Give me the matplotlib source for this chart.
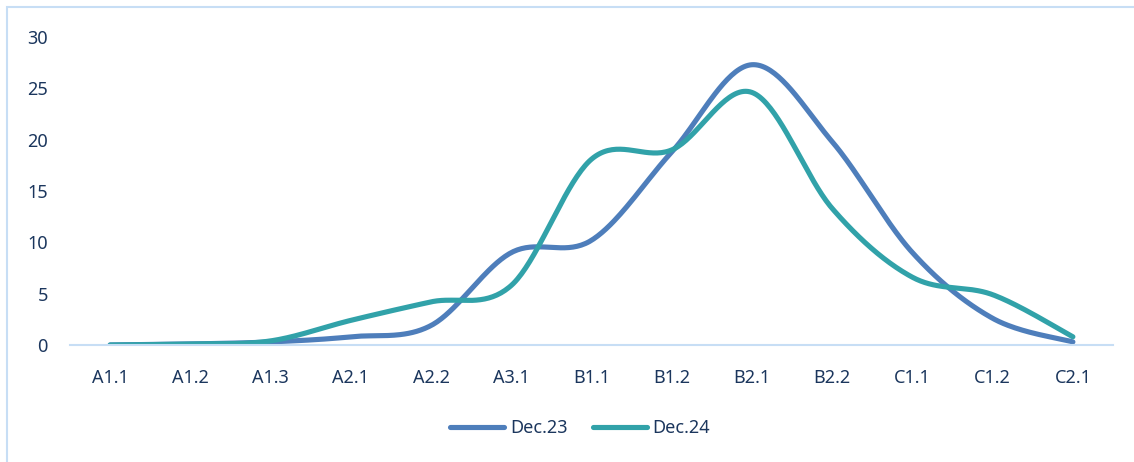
import numpy as np
import matplotlib
matplotlib.use("Agg")
import matplotlib.pyplot as plt
from matplotlib.patches import Rectangle

categories = ["A1.1", "A1.2", "A1.3", "A2.1", "A2.2", "A3.1", "B1.1",
              "B1.2", "B2.1", "B2.2", "C1.1", "C1.2", "C2.1"]
dec23 = [0.0, 0.1, 0.3, 0.8, 1.9, 9.0, 10.2, 18.8, 27.3, 19.8, 9.0, 2.6, 0.3]
dec24 = [0.0, 0.1, 0.4, 2.4, 4.2, 5.8, 18.1, 19.0, 24.6, 13.3, 6.6, 4.9, 0.8]
series_names = ["Dec.23", "Dec.24"]
colors = ["#4E7EBB", "#31A2A9"]

TEXT = "#1B365D"
AXIS = "#C7DEF5"


def smooth(xs, ys, steps=40):
    """Excel-style smoothed line: Catmull-Rom segments as cubic Beziers."""
    pts = np.column_stack([xs, ys]).astype(float)
    n = len(pts)
    out = [pts[0]]
    t = np.linspace(0, 1, steps)[1:, None]
    for i in range(n - 1):
        p0 = pts[max(i - 1, 0)]
        p1 = pts[i]
        p2 = pts[i + 1]
        p3 = pts[min(i + 2, n - 1)]
        c1 = p1 + (p2 - p0) / 6.0
        c2 = p2 - (p3 - p1) / 6.0
        seg = ((1 - t) ** 3) * p1 + 3 * ((1 - t) ** 2) * t * c1 \
            + 3 * (1 - t) * t ** 2 * c2 + t ** 3 * p2
        out.extend(seg)
    out = np.array(out)
    return out[:, 0], out[:, 1]


plt.rcParams['font.family'] = ['Noto Sans', 'DejaVu Sans']

W, H = 1134, 462
fig = plt.figure(figsize=(W / 100, H / 100), dpi=100)
ax = fig.add_axes([70 / W, 1 - 345 / H, (1113 - 70) / W, (345 - 37) / H])

# chart border
fig.patches.append(Rectangle((7 / W, -0.05), 1.2, 1 - 7 / H + 0.05,
                             transform=fig.transFigure, fill=False,
                             edgecolor=AXIS, linewidth=1.5))

x = np.arange(len(categories))
for name, vals, c in zip(series_names, [dec23, dec24], colors):
    sx, sy = smooth(x, vals)
    ax.plot(sx, sy, color=c, linewidth=3.7, solid_capstyle='round',
            label=name)

ax.set_xlim(-0.5, len(categories) - 0.5)
ax.set_ylim(0, 30)
ax.set_yticks(range(0, 31, 5))
ax.set_xticks(x)
ax.set_xticklabels(categories)

for side in ["top", "right", "left"]:
    ax.spines[side].set_visible(False)
ax.spines["bottom"].set_color(AXIS)
ax.spines["bottom"].set_linewidth(1.5)
ax.tick_params(axis='both', length=0, colors=TEXT, labelsize=13)
ax.tick_params(axis='y', pad=16)
ax.tick_params(axis='x', pad=17)
ax.patch.set_alpha(0)

leg = ax.legend(loc='center', bbox_to_anchor=(580 / W, 1 - 428 / H),
                bbox_transform=fig.transFigure, ncol=2, frameon=False,
                fontsize=13, handlelength=3.0, handletextpad=0.3,
                columnspacing=1.4, labelcolor=TEXT)
for line in leg.get_lines():
    line.set_solid_capstyle('round')

fig.savefig("out.png", dpi=100)
